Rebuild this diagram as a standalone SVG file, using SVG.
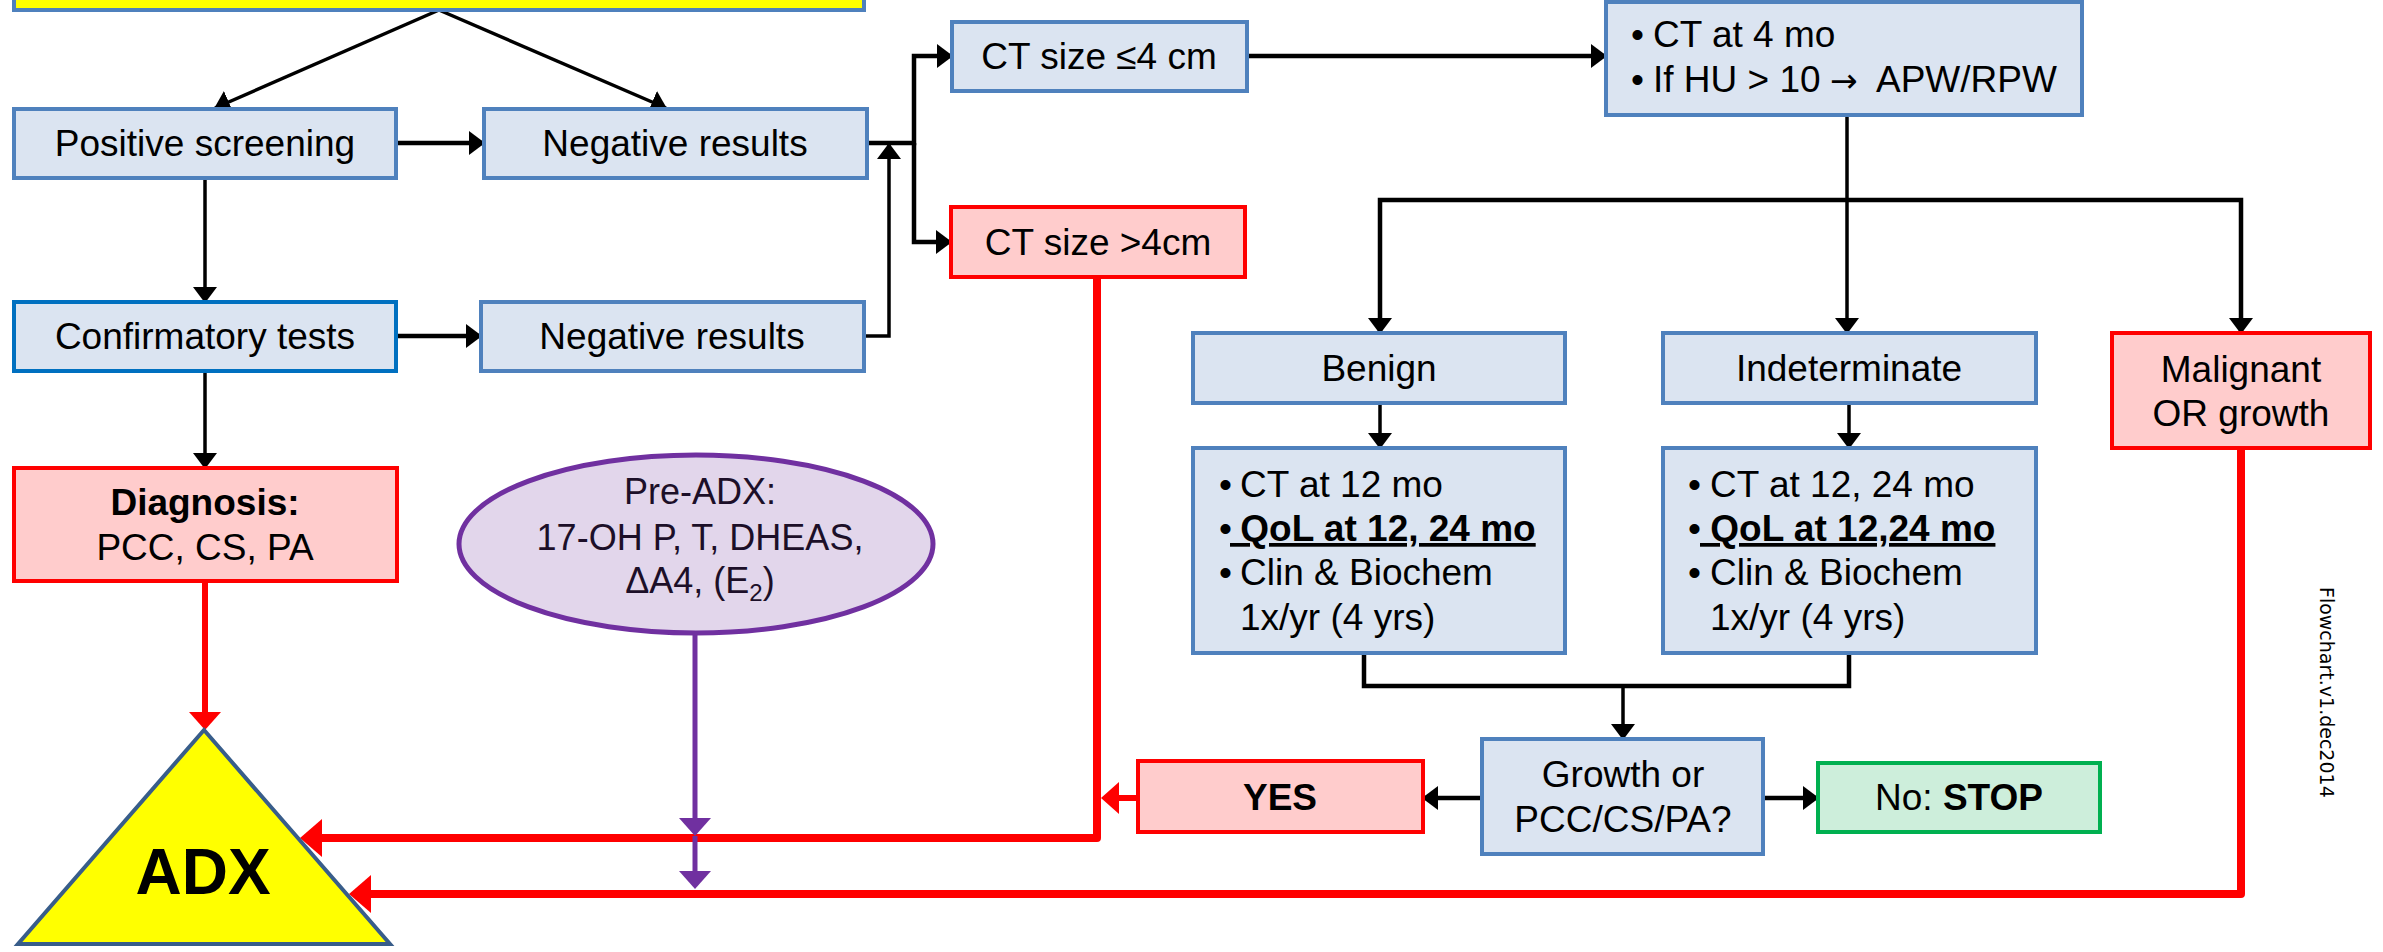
<svg xmlns="http://www.w3.org/2000/svg" width="2383" height="952" viewBox="0 0 2383 952">
<style>
  text { font-family: "Liberation Sans", Arial, sans-serif; font-size: 37px; fill: #000; }
  .c { text-anchor: middle; }
  .b { font-weight: bold; }
  .e { font-size: 36px; fill: #1c0f28; }
  .blue { fill: #DBE4F1; stroke: #4F81BD; stroke-width: 4; }
  .blue2 { fill: #DBE4F1; stroke: #0070C0; stroke-width: 4; }
  .red { fill: #FFCCCC; stroke: #FF0000; stroke-width: 4; }
  .green { fill: #CDEEDB; stroke: #00B050; stroke-width: 4; }
  .k { fill: none; stroke: #000; stroke-width: 3.5; marker-end: url(#ak); }
  .kk { fill: none; stroke: #000; stroke-width: 4.5; marker-end: url(#ak); }
  .kn2 { fill: none; stroke: #000; stroke-width: 4.5; }
  .r { fill: none; stroke: #FF0000; stroke-width: 8; stroke-linejoin: round; marker-end: url(#arb); }
  .rs { fill: none; stroke: #FF0000; stroke-width: 6; marker-end: url(#ars); }
  .p { fill: none; stroke: #7030A0; stroke-width: 5; marker-end: url(#ap); }
</style>
<defs>
  <marker id="ak" markerUnits="userSpaceOnUse" viewBox="0 0 16 24" markerWidth="16" markerHeight="24" refX="15" refY="12" orient="auto">
    <path d="M0,0 L16,12 L0,24 z" fill="#000"/>
  </marker>
  <marker id="arb" markerUnits="userSpaceOnUse" viewBox="0 0 22 38" markerWidth="22" markerHeight="38" refX="16" refY="19" orient="auto">
    <path d="M0,0 L22,19 L0,38 z" fill="#FF0000"/>
  </marker>
  <marker id="ars" markerUnits="userSpaceOnUse" viewBox="0 0 18 32" markerWidth="18" markerHeight="32" refX="13" refY="16" orient="auto">
    <path d="M0,0 L18,16 L0,32 z" fill="#FF0000"/>
  </marker>
  <marker id="ap" markerUnits="userSpaceOnUse" viewBox="0 0 18 32" markerWidth="18" markerHeight="32" refX="14" refY="16" orient="auto">
    <path d="M0,0 L18,16 L0,32 z" fill="#7030A0"/>
  </marker>
</defs>

<g id="connectors">
  <path class="k" d="M439,10 L215,108"/>
  <path class="k" d="M439,10 L666,108"/>
  <path class="kk" d="M396,143 H484"/>
  <path class="k" d="M205,178 V302"/>
  <path class="kk" d="M396,336 H481"/>
  <path class="k" d="M205,371 V468"/>
  <path class="k" d="M864,336 H889 V144"/>
  <path class="kk" d="M867,143 H914 V56 H952"/>
  <path class="kk" d="M914,143 V242 H951"/>
  <path class="kk" d="M1247,56 H1606"/>
  <path class="k" d="M1847,115 V333"/>
  <path class="kk" d="M1847,200 H1380 V333"/>
  <path class="kk" d="M1847,200 H2241 V333"/>
  <path class="k" d="M1380,403 V448"/>
  <path class="k" d="M1849,403 V448"/>
  <path class="kn2" d="M1364,653 V686 H1849 V653"/>
  <path class="k" d="M1623,686 V739"/>
  <path class="kk" d="M1482,798 H1423"/>
  <path class="kk" d="M1763,798 H1818"/>
  <path class="r" d="M1097,277 V838 H306"/>
  <path class="r" d="M2241,448 V894 H355"/>
  <path class="rs" d="M205,581 V725"/>
  <path class="rs" d="M1138,798 H1106"/>
  <path class="p" d="M695,633 V832"/>
  <path class="p" d="M695,836 V885"/>
</g>

<g id="top-box">
  <rect x="14" y="-20" width="850" height="30" fill="#FFFF00" stroke="#4F81BD" stroke-width="4"/>
</g>

<g id="positive-screening">
  <rect class="blue" x="14" y="109" width="382" height="69"/>
  <text class="c" x="205" y="156">Positive screening</text>
</g>
<g id="negative-results-1">
  <rect class="blue" x="484" y="109" width="383" height="69"/>
  <text class="c" x="675" y="156">Negative results</text>
</g>
<g id="confirmatory-tests">
  <rect class="blue2" x="14" y="302" width="382" height="69"/>
  <text class="c" x="205" y="349">Confirmatory tests</text>
</g>
<g id="negative-results-2">
  <rect class="blue" x="481" y="302" width="383" height="69"/>
  <text class="c" x="672" y="349">Negative results</text>
</g>
<g id="ct-small">
  <rect class="blue" x="952" y="22" width="295" height="69"/>
  <text class="c" x="1099" y="69">CT size ≤4 cm</text>
</g>
<g id="ct-large">
  <rect class="red" x="951" y="207" width="294" height="70"/>
  <text class="c" x="1098" y="255">CT size &gt;4cm</text>
</g>
<g id="ct-4mo">
  <rect class="blue" x="1606" y="2" width="476" height="113"/>
  <text y="47"><tspan x="1631">•</tspan><tspan x="1653">CT at 4 mo</tspan></text>
  <text y="92"><tspan x="1631">•</tspan><tspan x="1653">If HU &gt; 10</tspan><tspan x="1830" style="font-family:'DejaVu Sans',sans-serif;font-size:33px">→</tspan><tspan x="1876">APW/RPW</tspan></text>
</g>
<g id="benign">
  <rect class="blue" x="1193" y="333" width="372" height="70"/>
  <text class="c" x="1379" y="381">Benign</text>
</g>
<g id="indeterminate">
  <rect class="blue" x="1663" y="333" width="373" height="70"/>
  <text class="c" x="1849" y="381">Indeterminate</text>
</g>
<g id="malignant">
  <rect class="red" x="2112" y="333" width="258" height="115"/>
  <text class="c" x="2241" y="382">Malignant</text>
  <text class="c" x="2241" y="426">OR growth</text>
</g>
<g id="benign-followup">
  <rect class="blue" x="1193" y="448" width="372" height="205"/>
  <text y="497"><tspan x="1219">•</tspan><tspan x="1240">CT at 12 mo</tspan></text>
  <text y="541"><tspan x="1219">•</tspan><tspan x="1230" class="b" text-decoration="underline">&#160;QoL at 12, 24 mo</tspan></text>
  <text y="585"><tspan x="1219">•</tspan><tspan x="1240">Clin &amp; Biochem</tspan></text>
  <text x="1240" y="630">1x/yr (4 yrs)</text>
</g>
<g id="indeterminate-followup">
  <rect class="blue" x="1663" y="448" width="373" height="205"/>
  <text y="497"><tspan x="1688">•</tspan><tspan x="1710">CT at 12, 24 mo</tspan></text>
  <text y="541"><tspan x="1688">•</tspan><tspan x="1700" class="b" text-decoration="underline">&#160;QoL at 12,24 mo</tspan></text>
  <text y="585"><tspan x="1688">•</tspan><tspan x="1710">Clin &amp; Biochem</tspan></text>
  <text x="1710" y="630">1x/yr (4 yrs)</text>
</g>
<g id="diagnosis">
  <rect class="red" x="14" y="468" width="383" height="113"/>
  <text class="c b" x="205" y="515">Diagnosis:</text>
  <text class="c" x="205" y="560">PCC, CS, PA</text>
</g>
<g id="pre-adx">
  <ellipse cx="696" cy="544" rx="237" ry="89" fill="#E2D6EB" stroke="#7030A0" stroke-width="5"/>
  <text class="c e" x="700" y="504">Pre-ADX:</text>
  <text class="c e" x="700" y="550">17-OH P, T, DHEAS,</text>
  <text class="c e" x="700" y="593">ΔA4, (E<tspan font-size="24" dy="8">2</tspan><tspan dy="-8">)</tspan></text>
</g>
<g id="adx">
  <polygon points="204,730 18,944 390,944" fill="#FFFF00" stroke="#385D8A" stroke-width="4"/>
  <text class="c b" x="203" y="894" style="font-size:64px">ADX</text>
</g>
<g id="yes">
  <rect class="red" x="1138" y="761" width="285" height="71"/>
  <text class="c b" x="1280" y="810">YES</text>
</g>
<g id="growth">
  <rect class="blue" x="1482" y="739" width="281" height="115"/>
  <text class="c" x="1623" y="787">Growth or</text>
  <text class="c" x="1623" y="832">PCC/CS/PA?</text>
</g>
<g id="stop">
  <rect class="green" x="1818" y="763" width="282" height="69"/>
  <text class="c" x="1959" y="810">No: <tspan class="b">STOP</tspan></text>
</g>
<g id="version-label">
  <text transform="translate(2320,587) rotate(90)" style="font-family:'DejaVu Sans',sans-serif;font-size:19px">Flowchart.v1.dec2014</text>
</g>
</svg>
